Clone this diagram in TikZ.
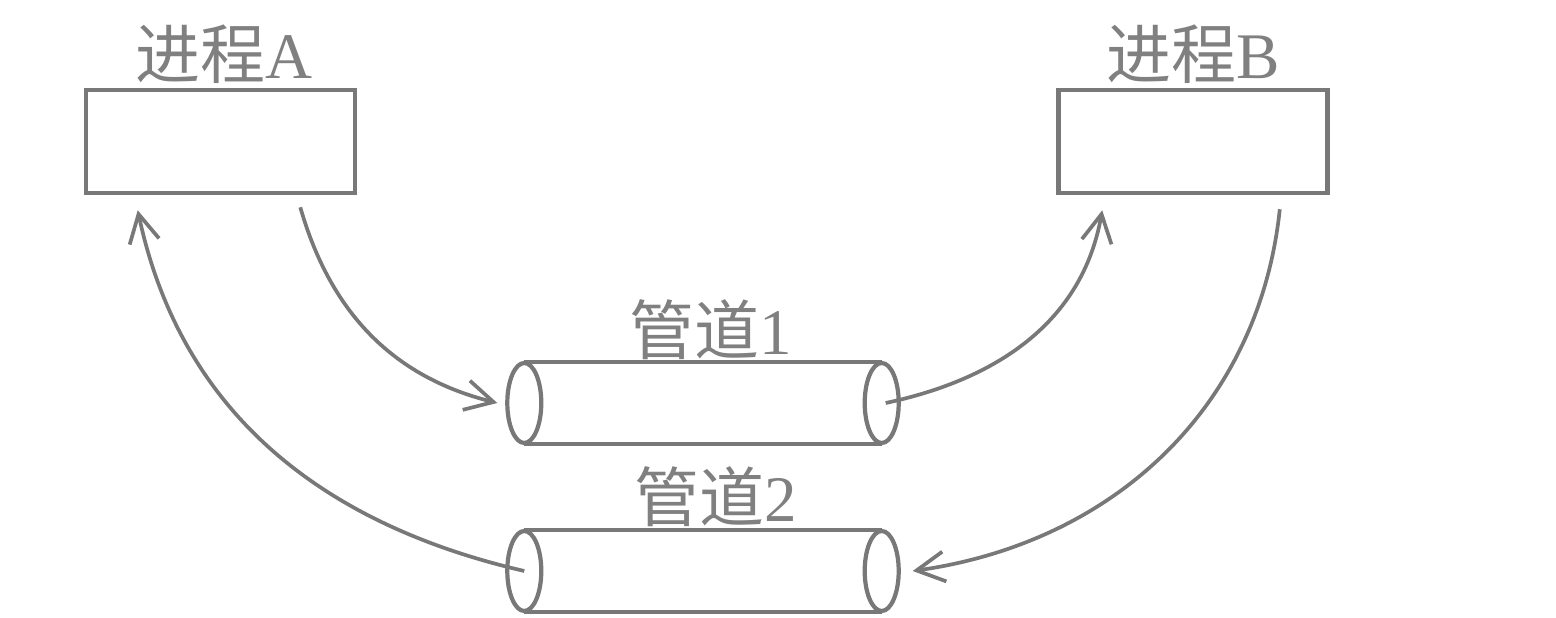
\documentclass[tikz,border=0pt]{standalone}
\usepackage{fontspec}
\setmainfont{Liberation Serif}
\newfontfamily\cjk{Noto Sans CJK SC}
\usetikzlibrary{arrows.meta,calc}
\definecolor{lc}{RGB}{120,120,120}
\definecolor{tc}{RGB}{128,128,128}
\begin{document}
\begin{tikzpicture}[
  procbox/.style={draw=lc,line width=1.3pt,minimum width=2.69cm,minimum height=1.03cm,inner sep=0pt},
  pipebody/.style={minimum width=3.56cm,minimum height=0.8cm,inner sep=0pt},
  pipeline/.style={draw=lc,line width=1.2pt},
  lbl/.style={text=tc,font=\fontsize{18.5}{22}\selectfont,inner sep=0pt},
  conn/.style={draw=lc,line width=1.05pt,-{Straight Barb[length=0.28cm,width=0.3cm,line width=1.05pt]}}
]
\useasboundingbox (0,0) rectangle (15.56,6.18);
% process boxes
\node[procbox] (A) at (2.205,4.765) {};
\node[procbox] (B) at (11.93,4.765) {};
\node[lbl] (la) at (2.24,5.64) {{\cjk 进程}A};
\node[lbl] (lb) at (11.93,5.64) {{\cjk 进程}B};
% pipes
\node[pipebody] (p1) at (7.03,2.15) {};
\node[pipebody] (p2) at (7.03,0.47) {};
\node[lbl] (l1) at (7.11,2.88) {{\cjk 管道}1};
\node[lbl] (l2) at (7.16,1.21) {{\cjk 管道}2};
\foreach \p in {p1,p2}{
  \draw[pipeline] (\p.north west) -- (\p.north east);
  \draw[pipeline] (\p.south west) -- (\p.south east);
  \draw[pipeline] (\p.west) ellipse [x radius=0.17,y radius=0.4];
  \draw[pipeline] (\p.east) ellipse [x radius=0.17,y radius=0.4];
}
% connectors
\draw[conn] ($(A.south east)+(-0.57,-0.12)$) to[out=-74,in=166] ($(p1.west)+(-0.27,0)$);
\draw[conn] ($(p1.east)+(0.04,0)$) to[out=12,in=-100] ($(B.south west)+(0.46,-0.15)$);
\draw[conn] ($(B.south east)+(-0.5,-0.14)$) to[out=-96,in=8] ($(p2.east)+(0.31,0)$);
\draw[conn] (p2.west) to[out=167,in=-78] ($(A.south west)+(0.54,-0.15)$);
\end{tikzpicture}
\end{document}
